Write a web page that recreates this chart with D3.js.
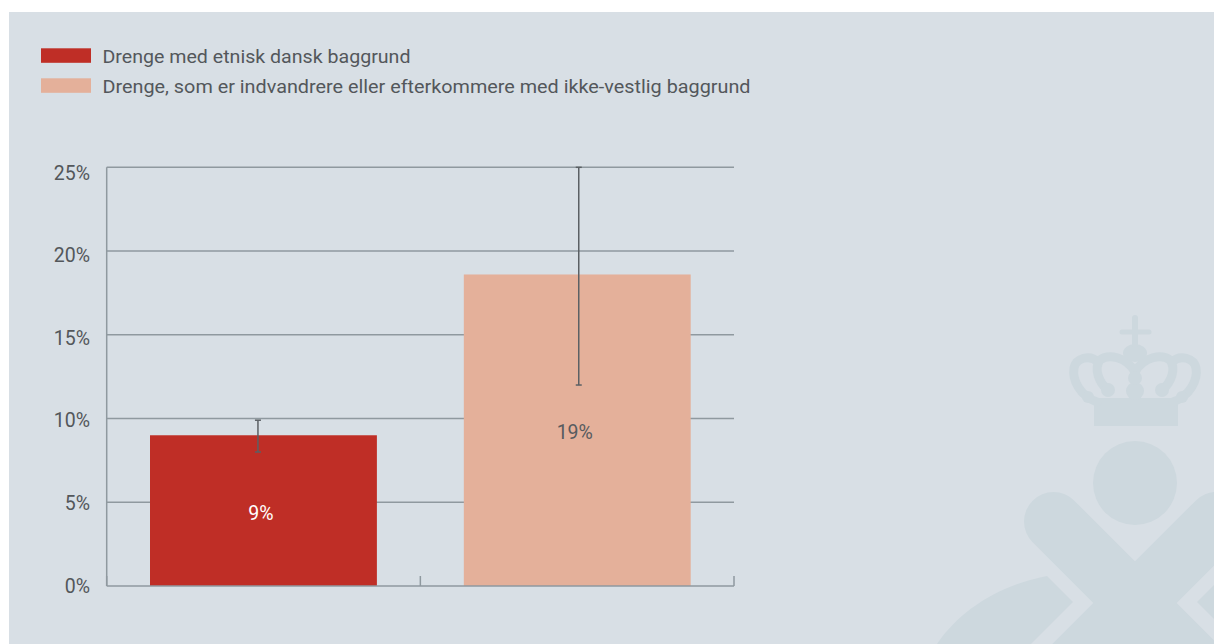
<!DOCTYPE html>
<html><head><meta charset="utf-8">
<script src="https://cdn.jsdelivr.net/npm/d3@7"></script>
<style>body{margin:0;background:#fff;} svg{display:block;}</style>
</head><body>
<svg id="c" width="1214" height="644"></svg>
<script>
// ---- data ----
const categories = ["Drenge med etnisk dansk baggrund",
  "Drenge, som er indvandrere eller efterkommere med ikke-vestlig baggrund"];
const values = [9.0, 18.6];
const errLow = [8.0, 12.0];
const errHigh = [9.9, 25.0];
const valueLabels = ["9%", "19%"];
const yTicks = [0, 5, 10, 15, 20, 25];
const yTickLabels = ["0%", "5%", "10%", "15%", "20%", "25%"];
const colors = ["#bf2e26", "#e4b09a"];
const labelColors = ["#ffffff", "#575b5f"];

const svg = d3.select("#c");
const FONT = "Roboto, 'Open Sans', sans-serif";
const TXT = "#53575b";
const GRID = "#8f999f";
const WM = "#cdd8de";
const BG = "#d8dfe5";

// panel
svg.append("rect").attr("x", 9).attr("y", 12).attr("width", 1205).attr("height", 632).attr("fill", BG);

// ---- watermark (logo) ----
const wm = svg.append("g").attr("fill", WM).attr("stroke", "none");
wm.append("line").attr("x1", 1053.5).attr("y1", 521.5).attr("x2", 1260).attr("y2", 728)
  .attr("stroke", WM).attr("stroke-width", 59).attr("stroke-linecap", "round");
wm.append("line").attr("x1", 1216.5).attr("y1", 521.5).attr("x2", 1010).attr("y2", 728)
  .attr("stroke", WM).attr("stroke-width", 59).attr("stroke-linecap", "round");
wm.append("path").attr("d", "M1047,576 L1073,602 L1031,644 L937,644 C960,610 1000,585 1047,576 Z");
wm.append("path").attr("d", "M1223,576 L1197,602 L1239,644 L1333,644 C1310,610 1270,585 1223,576 Z");
wm.append("circle").attr("cx", 1135).attr("cy", 483).attr("r", 42);
wm.append("rect").attr("x", 1094).attr("y", 398).attr("width", 84).attr("height", 28);
const arcs = [
  "M1097,402 C1080,396 1072,380 1074,368 C1076,358 1090,354 1098,362",
  "M1173,402 C1190,396 1198,380 1196,368 C1194,358 1180,354 1172,362",
  "M1135,372 C1126,356 1108,354 1100,360 C1094,368 1098,382 1108,390",
  "M1135,372 C1144,356 1162,354 1170,360 C1176,368 1172,382 1162,390"
];
arcs.forEach(d => wm.append("path").attr("d", d).attr("fill", "none").attr("stroke", WM)
  .attr("stroke-width", 9).attr("stroke-linecap", "round"));
[[1108, 390, 7], [1162, 390, 7], [1135, 391, 9], [1135, 378, 7], [1088, 397, 6], [1182, 397, 6]]
  .forEach(p => wm.append("circle").attr("cx", p[0]).attr("cy", p[1]).attr("r", p[2]));
wm.append("ellipse").attr("cx", 1135).attr("cy", 353).attr("rx", 12).attr("ry", 9);
wm.append("line").attr("x1", 1135).attr("y1", 318).attr("x2", 1135).attr("y2", 346)
  .attr("stroke", WM).attr("stroke-width", 6).attr("stroke-linecap", "round");
wm.append("line").attr("x1", 1122).attr("y1", 332).attr("x2", 1149).attr("y2", 332)
  .attr("stroke", WM).attr("stroke-width", 5).attr("stroke-linecap", "round");

// ---- scales ----
const x = d3.scaleBand().domain(categories).range([106.7, 734]).paddingInner(0.277).paddingOuter(0.138);
const y = d3.scaleLinear().domain([0, 25]).range([586, 167.3]);
const yLab = d3.scaleLinear().domain([0, 25]).range([585.5, 172.5]);

// gridlines
svg.append("g").selectAll("line").data(yTicks.filter(t => t > 0)).join("line")
  .attr("x1", 106.7).attr("x2", 734).attr("y1", d => y(d)).attr("y2", d => y(d))
  .attr("stroke", GRID).attr("stroke-width", 1.5);

// y tick labels
svg.append("g").selectAll("text").data(yTicks).join("text")
  .attr("x", 90).attr("y", d => yLab(d)).attr("dy", "0.36em")
  .attr("text-anchor", "end").attr("font-family", FONT).attr("font-size", 19.5)
  .attr("fill", TXT).text((d, i) => yTickLabels[i]);

// bars
svg.append("g").selectAll("rect").data(categories).join("rect")
  .attr("x", d => x(d)).attr("width", x.bandwidth())
  .attr("y", (d, i) => y(values[i])).attr("height", (d, i) => y(0) - y(values[i]))
  .attr("fill", (d, i) => colors[i]);

// axes lines
svg.append("line").attr("x1", 106.7).attr("x2", 106.7).attr("y1", 167.3).attr("y2", 586)
  .attr("stroke", GRID).attr("stroke-width", 1.5);
svg.append("line").attr("x1", 106.7).attr("x2", 734).attr("y1", 586).attr("y2", 586)
  .attr("stroke", GRID).attr("stroke-width", 1.5);
const r0 = x.range()[0], r1 = x.range()[1];
const bounds = d3.range(categories.length + 1).map(i => r0 + i * (r1 - r0) / categories.length);
svg.append("g").selectAll("line").data(bounds).join("line")
  .attr("x1", d => d).attr("x2", d => d).attr("y1", 576).attr("y2", 586)
  .attr("stroke", GRID).attr("stroke-width", 1.5);

// error bars (slight horizontal offsets as in the original)
const ebOffset = [-5.5, 1.5];
const eb = svg.append("g").attr("stroke", "#5b6064").attr("stroke-width", 1.5);
categories.forEach((c, i) => {
  const cx = x(c) + x.bandwidth() / 2 + ebOffset[i];
  eb.append("line").attr("x1", cx).attr("x2", cx).attr("y1", y(errLow[i])).attr("y2", y(errHigh[i]));
  eb.append("line").attr("x1", cx - 3).attr("x2", cx + 3).attr("y1", y(errLow[i])).attr("y2", y(errLow[i]));
  eb.append("line").attr("x1", cx - 3).attr("x2", cx + 3).attr("y1", y(errHigh[i])).attr("y2", y(errHigh[i]));
});

// value labels
svg.append("g").selectAll("text").data(categories).join("text")
  .attr("x", d => x(d) + x.bandwidth() / 2 - 2.5)
  .attr("y", (d, i) => (y(values[i]) + y(0)) / 2 + 2).attr("dy", "0.36em")
  .attr("text-anchor", "middle").attr("font-family", FONT).attr("font-size", 19.5)
  .attr("fill", (d, i) => labelColors[i]).text((d, i) => valueLabels[i]);

// legend
const legendTextLen = [308, 648];
const lg = svg.append("g");
categories.forEach((c, i) => {
  lg.append("rect").attr("x", 41).attr("y", 48.3 + i * 30).attr("width", 50).attr("height", 14.5)
    .attr("fill", colors[i]);
  lg.append("text").attr("x", 102.5).attr("y", 62.8 + i * 30)
    .attr("font-family", FONT).attr("font-size", 19).attr("fill", TXT).text(c)
    .attr("textLength", legendTextLen[i]).attr("lengthAdjust", "spacingAndGlyphs");
});
</script>
</body></html>
